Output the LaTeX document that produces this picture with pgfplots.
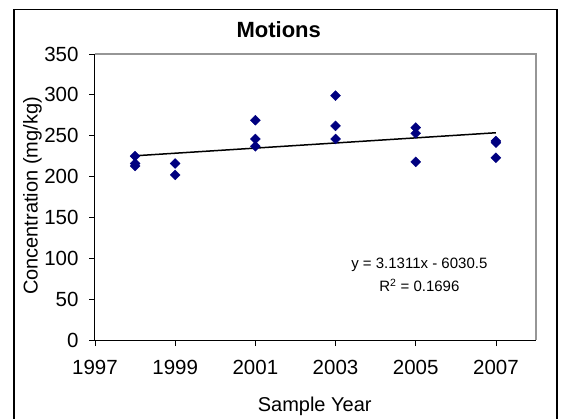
\documentclass[border=0pt]{standalone}
\usepackage{pgfplots}
\pgfplotsset{compat=1.18}
\usepackage{fontspec}
\setmainfont{Liberation Sans}
\definecolor{navy}{RGB}{0,0,128}
\definecolor{frameg}{RGB}{150,150,150}
\begin{document}
\begin{tikzpicture}
\useasboundingbox (-95bp,-79bp) rectangle (466bp,340bp);
\draw[black, line width=1.2bp] (-81bp,-95bp) rectangle (462bp,330.5bp);
\begin{axis}[
  at={(0,0)}, anchor=south west,
  scale only axis, width=441bp, height=286bp,
  xmin=1997, xmax=2008, ymin=0, ymax=350,
  xtick={1997,1999,2001,2003,2005,2007},
  ytick={0,50,100,150,200,250,300,350},
  xticklabel style={/pgf/number format/1000 sep={}, yshift=-11bp},
  yticklabel style={xshift=-7bp},
  /pgf/number format/assume math mode=true,
  tick label style={font=\fontsize{20.5bp}{23bp}\selectfont},
  xtick pos=bottom, ytick pos=left,
  tick align=outside, major tick length=6bp,
  tick style={black, line width=0.8bp},
  axis line style={draw=none},
  clip=false,
  after end axis/.code={
    \draw[frameg, line width=1.5bp] (rel axis cs:0,1) -- (rel axis cs:1,1) -- (rel axis cs:1,0);
    \draw[black, line width=1bp] (rel axis cs:0,1) -- (rel axis cs:0,0) -- (rel axis cs:1,0);
  },
]
\addplot[black, line width=1.5bp, no marks] coordinates {(1998,225.44) (2007,253.62)};
\addplot[only marks, mark=square*, mark size=3.5bp, mark options={rotate=45, fill=navy, draw=navy}] coordinates {
(1998,225) (1998,216) (1998,213)
(1999,216) (1999,202)
(2001,269) (2001,246) (2001,237)
(2003,299) (2003,262) (2003,246)
(2005,260) (2005,253) (2005,218)
(2007,243.5) (2007,241.5) (2007,223)
};
\node[anchor=base, font=\fontsize{15bp}{18bp}\selectfont] at (axis cs:2005.09,86.9) {y = 3.1311x - 6030.5};
\node[anchor=base, font=\fontsize{15bp}{18bp}\selectfont] at (axis cs:2005.09,59.1) {R\textsuperscript{2} = 0.1696};
\end{axis}
\node[anchor=base, font=\fontsize{22bp}{26bp}\selectfont\bfseries] at (183.7bp,302bp) {Motions};
\node[anchor=base, font=\fontsize{20bp}{24bp}\selectfont] at (219.7bp,-71.7bp) {Sample Year};
\node[anchor=base, rotate=90, font=\fontsize{20bp}{24bp}\selectfont] at (-57.4bp,144bp) {Concentration (mg/kg)};
\end{tikzpicture}
\end{document}
